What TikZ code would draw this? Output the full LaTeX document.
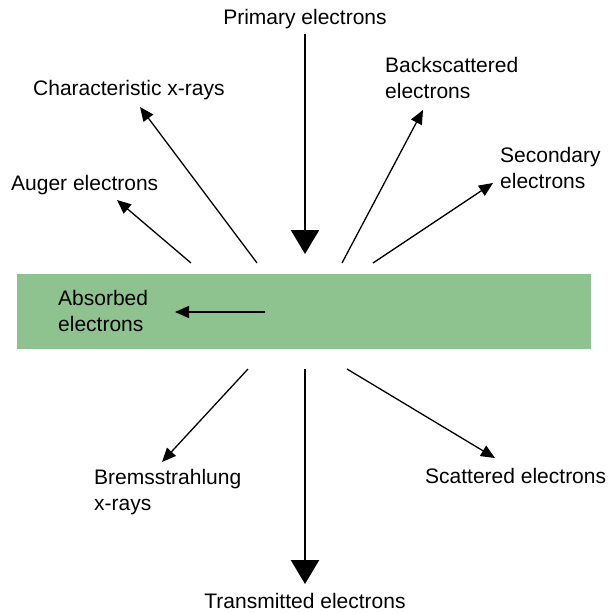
\documentclass[tikz,border=0pt]{standalone}
\usepackage{fontspec}
\setmainfont{Liberation Sans}
\usetikzlibrary{arrows.meta}
\begin{document}
\begin{tikzpicture}[x=1pt,y=-1pt,
  lbl/.style={inner sep=0pt, align=left, font=\fontsize{21}{26.5}\selectfont},
  thin/.style={line width=1.3pt, -{Triangle[length=14pt,width=12pt]}},
  thick/.style={line width=2.4pt, -{Triangle[length=24pt,width=28pt]}}]
\useasboundingbox (0,0) rectangle (608,613);
\definecolor{sample}{HTML}{8EC28E}
\fill[sample] (17,274) rectangle (591,349);
% labels
\node[lbl] (prim) at (305,19) {Primary electrons};
\node[lbl, anchor=west] (char) at (33,90) {Characteristic x-rays};
\node[lbl, anchor=west] (aug) at (11,185) {Auger electrons};
\node[lbl, anchor=west] (back) at (385,78) {Backscattered\\electrons};
\node[lbl, anchor=west] (sec) at (500,168) {Secondary\\electrons};
\node[lbl, anchor=west] (abs) at (58,311) {Absorbed\\electrons};
\node[lbl, anchor=west] (brem) at (94,492) {Bremsstrahlung\\x-rays};
\node[lbl, anchor=west] (scat) at (425,476) {Scattered electrons};
\node[lbl] (trans) at (305,601) {Transmitted electrons};
% arrow end points
\coordinate (p0) at (305,34);   \coordinate (p1) at (305,254);
\coordinate (c0) at (257,263);  \coordinate (c1) at (140,107);
\coordinate (a0) at (191,263);  \coordinate (a1) at (117,200);
\coordinate (b0) at (342,263);  \coordinate (b1) at (423,110);
\coordinate (s0) at (373,263);  \coordinate (s1) at (493,183);
\coordinate (ab0) at (265,312); \coordinate (ab1) at (175,312);
\coordinate (br0) at (248,369); \coordinate (br1) at (162,462);
\coordinate (t0) at (305,369);  \coordinate (t1) at (305,584);
\coordinate (sc0) at (347,369); \coordinate (sc1) at (495,458);
\draw[thick] (p0) -- (p1);
\draw[thin] (c0) -- (c1);
\draw[thin] (a0) -- (a1);
\draw[thin] (b0) -- (b1);
\draw[thin] (s0) -- (s1);
\draw[thin] (ab0) -- (ab1);
\draw[thin] (br0) -- (br1);
\draw[thick] (t0) -- (t1);
\draw[thin] (sc0) -- (sc1);
\end{tikzpicture}
\end{document}
